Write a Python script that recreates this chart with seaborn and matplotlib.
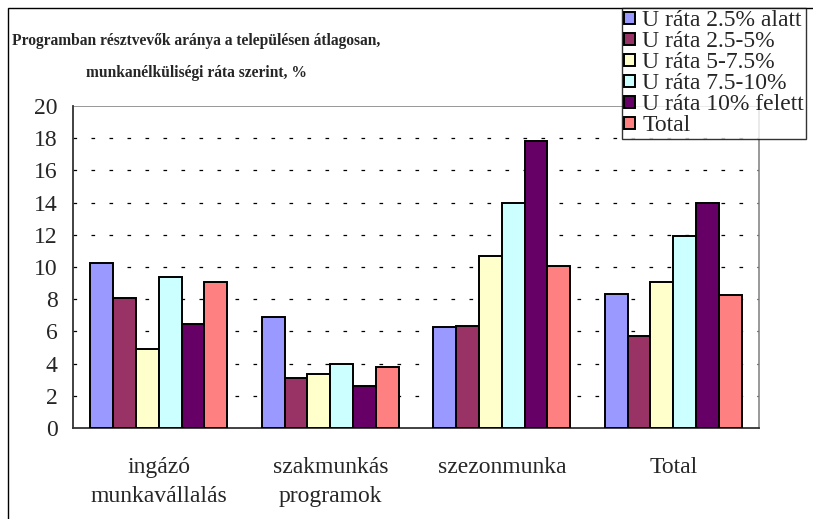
import matplotlib
matplotlib.use("Agg")
import matplotlib.pyplot as plt
import seaborn as sns
import pandas as pd
import numpy as np
from matplotlib.patches import Rectangle

categories = ["ingázó\nmunkavállalás", "szakmunkás\nprogramok", "szezonmunka", "Total"]
series = ["U ráta 2.5% alatt", "U ráta 2.5-5%", "U ráta 5-7.5%", "U ráta 7.5-10%", "U ráta 10% felett", "Total"]
v_alatt25 = [10.25, 6.9, 6.25, 8.35]
v_25_5 = [8.1, 3.1, 6.35, 5.7]
v_5_75 = [4.9, 3.35, 10.7, 9.05]
v_75_10 = [9.35, 4.0, 13.95, 11.95]
v_felett10 = [6.45, 2.6, 17.85, 13.95]
v_total = [9.05, 3.8, 10.05, 8.25]
colors = ["#9999FF", "#993366", "#FFFFCC", "#CCFFFF", "#660066", "#FF8080"]
yticks = [0, 2, 4, 6, 8, 10, 12, 14, 16, 18, 20]

rows = []
for s, vals in zip(series, [v_alatt25, v_25_5, v_5_75, v_75_10, v_felett10, v_total]):
    for c, v in zip(categories, vals):
        rows.append({"cat": c, "series": s, "value": v})
df = pd.DataFrame(rows)

sns.set_theme(style="white")
plt.rcParams["font.family"] = ["Liberation Serif", "DejaVu Serif"]

W, H = 813, 519
fig = plt.figure(figsize=(W / 100, H / 100), dpi=100)
ax = fig.add_axes([73 / W, 1 - 428 / H, (759 - 73) / W, (428 - 106) / H])

sns.barplot(data=df, x="cat", y="value", hue="series", order=categories,
            hue_order=series, palette=colors, edgecolor="black", linewidth=1.4,
            width=0.8, ax=ax, legend=True, zorder=3, saturation=1)

ax.set_ylim(0, 20)
ax.set_xlim(-0.5, 3.5)
ax.set_yticks(yticks)
ax.set_yticklabels([str(t) for t in yticks], fontsize=17)
for t in yticks[1:-1]:
    ax.axhline(t, color="black", lw=0.9, linestyle=(0, (2.9, 11.5)), zorder=1)
ax.axhline(20, color="#888888", lw=1.2, zorder=2)

ax.set_xticks(range(4))
ax.set_xticklabels(categories, fontsize=17, linespacing=1.5)
ax.set_xticks([-0.5, 0.5, 1.5, 2.5, 3.5], minor=True)
ax.tick_params(axis="x", which="major", length=0, pad=21)
ax.tick_params(axis="x", which="minor", length=6, width=1, color="#333333", direction="out")
ax.tick_params(axis="y", which="major", length=12, width=1, color="#333333", direction="inout", pad=5)
ax.set_xlabel("")
ax.set_ylabel("")

for side in ["left", "bottom"]:
    ax.spines[side].set_color("#333333")
    ax.spines[side].set_linewidth(1.3)
ax.spines["right"].set_color("#888888")
ax.spines["right"].set_linewidth(1.2)
ax.spines["top"].set_visible(False)

# legend
handles, labels = ax.get_legend_handles_labels()
if ax.get_legend():
    ax.get_legend().remove()
leg = fig.legend(handles, labels, loc="upper left",
                 bbox_to_anchor=(622 / W, 1 - 8 / H), frameon=True,
                 fontsize=17, handlelength=0.45, handleheight=0.45,
                 handletextpad=0.3, labelspacing=0.0, borderpad=0.1,
                 borderaxespad=0, fancybox=False)
leg.get_frame().set_edgecolor("black")
leg.get_frame().set_linewidth(1.0)

# title
fig.text(196 / W, 1 - 41 / H, "Programban résztvevők aránya a településen átlagosan,",
         ha="center", va="center", fontsize=11.2, fontweight="bold")
fig.text(196 / W, 1 - 73 / H, "munkanélküliségi ráta szerint, %",
         ha="center", va="center", fontsize=11.2, fontweight="bold")

# outer chart frame (cropped at right/bottom)
fig.patches.append(Rectangle((8 / W, -0.1), 1.2, 1 - 8 / H + 0.1, transform=fig.transFigure,
                             fill=False, edgecolor="black", lw=1.0, zorder=0))

fig.savefig("out.png", dpi=100)
